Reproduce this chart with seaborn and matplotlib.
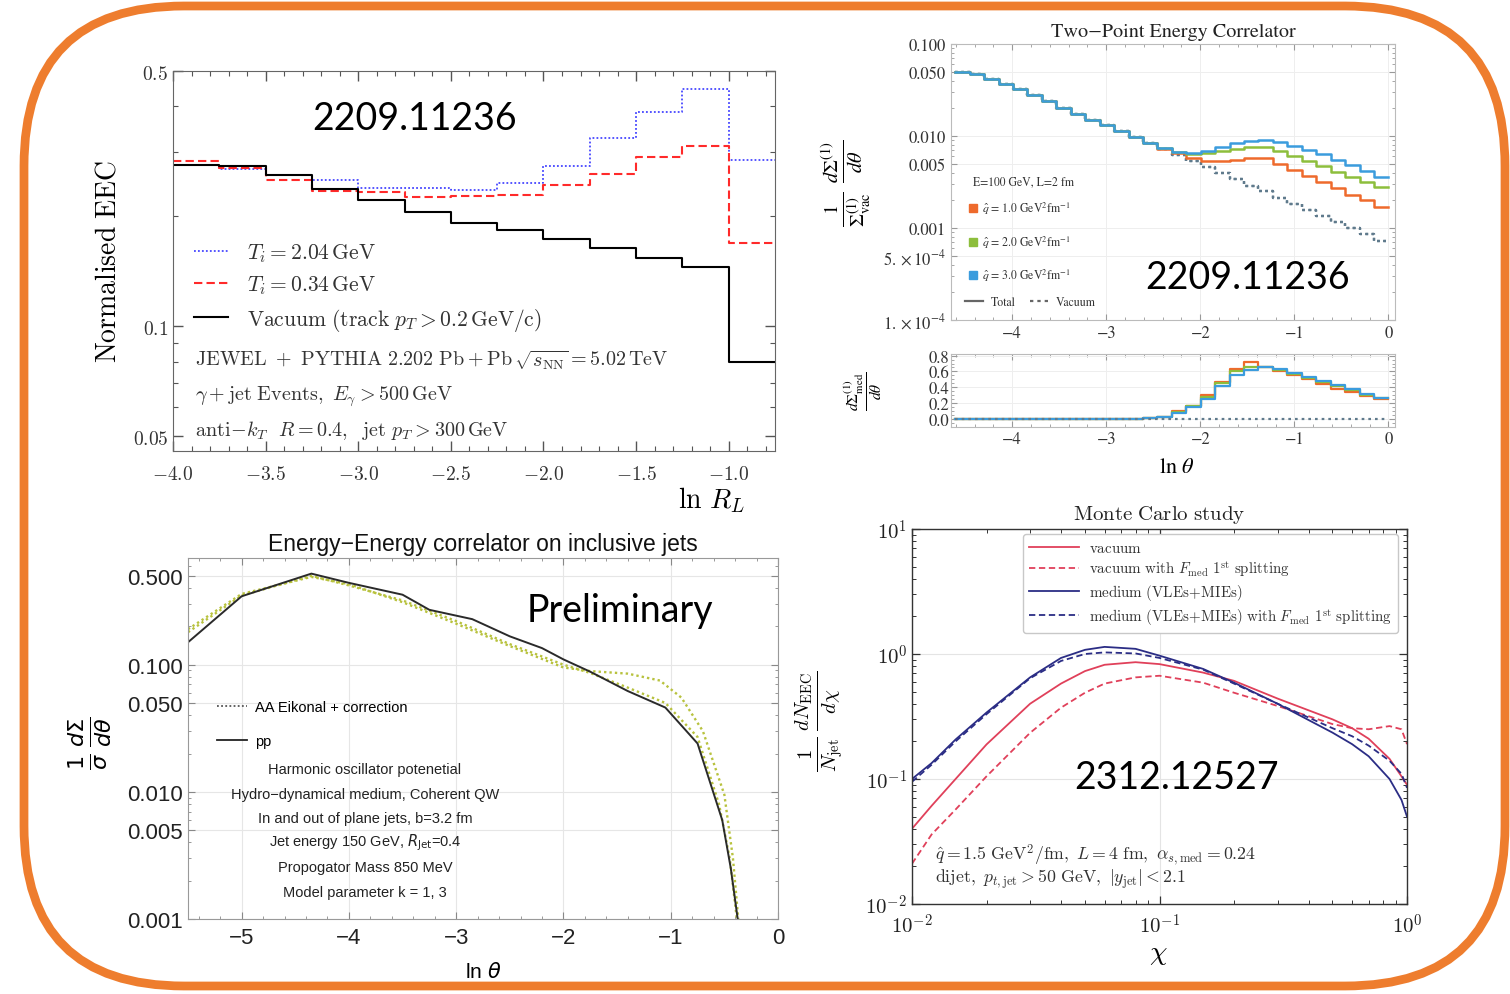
import numpy as np
import pandas as pd
import matplotlib
matplotlib.use("Agg")
import matplotlib.pyplot as plt
import seaborn as sns
from matplotlib.patches import FancyBboxPatch
from matplotlib.lines import Line2D
from matplotlib.ticker import MultipleLocator, FixedLocator, NullFormatter

# ---------------- data: panel 1 (2209.11236, JEWEL) ----------------
RL_edges = [-4.0, -3.75, -3.5, -3.25, -3.0, -2.75, -2.5, -2.25, -2.0, -1.75, -1.5, -1.25, -1.0, -0.75]
eec_Ti204 = [0.277, 0.270, 0.260, 0.251, 0.239, 0.239, 0.236, 0.247, 0.275, 0.328, 0.386, 0.446, 0.286]
eec_Ti034 = [0.284, 0.272, 0.252, 0.235, 0.233, 0.226, 0.227, 0.228, 0.243, 0.261, 0.290, 0.311, 0.169]
eec_vacuum = [0.277, 0.275, 0.259, 0.238, 0.221, 0.205, 0.192, 0.183, 0.173, 0.164, 0.154, 0.145, 0.080]
RL_ticks = [-4.0, -3.5, -3.0, -2.5, -2.0, -1.5, -1.0]
RL_yticks = [0.05, 0.1, 0.5]

# ---------------- data: panel 2 (2209.11236, two-point correlator) ----------------
theta_edges = [-4.605, -4.452, -4.298, -4.145, -3.991, -3.838, -3.684, -3.531, -3.377, -3.224,
               -3.070, -2.917, -2.763, -2.610, -2.456, -2.303, -2.149, -1.996, -1.842, -1.689,
               -1.535, -1.382, -1.228, -1.075, -0.921, -0.768, -0.614, -0.461, -0.307, -0.154, 0.0]
eec_vac2 = [0.0501, 0.0468, 0.0417, 0.0372, 0.0324, 0.0282, 0.0240, 0.0204, 0.0174, 0.0151,
            0.0132, 0.0112, 0.00977, 0.00832, 0.00724, 0.00617, 0.00537, 0.00457, 0.00398, 0.00339,
            0.00288, 0.00251, 0.00214, 0.00182, 0.00158, 0.00135, 0.00117, 0.00100, 0.00085, 0.00072]
eec_q1 = [0.0501, 0.0468, 0.0417, 0.0372, 0.0324, 0.0282, 0.0240, 0.0204, 0.0174, 0.0151,
          0.0132, 0.0112, 0.00977, 0.00832, 0.0073, 0.0066, 0.0058, 0.0054, 0.0054, 0.0055,
          0.0057, 0.0058, 0.0050, 0.0043, 0.0037, 0.0032, 0.0027, 0.0023, 0.0020, 0.0017]
eec_q2 = [0.0501, 0.0468, 0.0417, 0.0372, 0.0324, 0.0282, 0.0240, 0.0204, 0.0174, 0.0151,
          0.0132, 0.0112, 0.00977, 0.00832, 0.0074, 0.0067, 0.0064, 0.0065, 0.0069, 0.0073,
          0.0076, 0.0076, 0.0069, 0.0061, 0.0054, 0.0047, 0.0041, 0.0036, 0.0032, 0.0028]
eec_q3 = [0.0501, 0.0468, 0.0417, 0.0372, 0.0324, 0.0282, 0.0240, 0.0204, 0.0174, 0.0151,
          0.0132, 0.0112, 0.00977, 0.00832, 0.0074, 0.0067, 0.0065, 0.0068, 0.0076, 0.0083,
          0.0088, 0.0090, 0.0087, 0.0078, 0.0070, 0.0063, 0.0055, 0.0048, 0.0042, 0.0036]
med_q1 = [0, 0, 0, 0, 0, 0, 0, 0, 0, 0, 0, 0, 0, 0.01, 0.03, 0.10, 0.17, 0.30, 0.47, 0.63,
          0.72, 0.66, 0.60, 0.56, 0.50, 0.44, 0.38, 0.34, 0.29, 0.25]
med_q2 = [0, 0, 0, 0, 0, 0, 0, 0, 0, 0, 0, 0, 0, 0.01, 0.03, 0.09, 0.16, 0.28, 0.45, 0.60,
          0.66, 0.66, 0.62, 0.57, 0.52, 0.47, 0.42, 0.37, 0.30, 0.26]
med_q3 = [0, 0, 0, 0, 0, 0, 0, 0, 0, 0, 0, 0, 0, 0.01, 0.02, 0.08, 0.15, 0.25, 0.42, 0.56,
          0.62, 0.66, 0.63, 0.58, 0.53, 0.48, 0.43, 0.38, 0.31, 0.26]
med_vac = [0] * 30
theta_ticks = [-4, -3, -2, -1, 0]
corr_yticks = [1e-4, 5e-4, 1e-3, 5e-3, 1e-2, 5e-2, 1e-1]
corr_ylabels = [r'$1.\times10^{-4}$', r'$5.\times10^{-4}$', '0.001', '0.005', '0.010', '0.050', '0.100']
ratio_yticks = [0.0, 0.2, 0.4, 0.6, 0.8]

# ---------------- data: panel 3 (Preliminary, inclusive jets) ----------------
pp_x = [-5.5, -5.0, -4.35, -4.0, -3.5, -3.25, -2.85, -2.5, -2.2, -2.0, -1.75, -1.4, -1.05, -0.75, -0.52, -0.44, -0.36]
pp_y = [0.150, 0.345, 0.520, 0.44, 0.355, 0.27, 0.228, 0.167, 0.135, 0.110, 0.088, 0.062, 0.046, 0.024, 0.0060, 0.0025, 0.0008]
aa1_x = [-5.5, -5.0, -4.35, -4.0, -3.5, -3.0, -2.5, -2.0, -1.75, -1.4, -1.1, -0.9, -0.7, -0.5, -0.42, -0.36]
aa1_y = [0.190, 0.36, 0.49, 0.43, 0.31, 0.21, 0.14, 0.095, 0.089, 0.085, 0.075, 0.055, 0.030, 0.0095, 0.003, 0.0008]
aa2_x = [-5.5, -5.0, -4.35, -4.0, -3.5, -3.0, -2.5, -2.0, -1.75, -1.4, -1.05, -0.75, -0.55, -0.45, -0.37]
aa2_y = [0.180, 0.35, 0.50, 0.42, 0.32, 0.22, 0.145, 0.10, 0.086, 0.066, 0.050, 0.027, 0.008, 0.003, 0.0008]
incl_xticks = [-5, -4, -3, -2, -1, 0]
incl_yticks = [0.001, 0.005, 0.010, 0.050, 0.100, 0.500]
incl_notes = ["Harmonic oscillator potenetial",
              "Hydro\u2212dynamical medium, Coherent QW",
              "In and out of plane jets, b=3.2 fm",
              r"Jet energy 150 GeV, $R_{\rm Jet}$=0.4",
              "Propogator Mass 850 MeV",
              "Model parameter k = 1, 3"]

# ---------------- data: panel 4 (2312.12527, Monte Carlo) ----------------
chi = [0.010, 0.012, 0.015, 0.020, 0.030, 0.040, 0.050, 0.060, 0.080, 0.10, 0.15, 0.20, 0.30, 0.50, 0.60, 0.70, 0.85, 0.95, 1.00]
mc_vac = [0.040, 0.061, 0.100, 0.189, 0.40, 0.58, 0.73, 0.82, 0.86, 0.83, 0.71, 0.61, 0.44, 0.30, 0.255, 0.21, 0.145, 0.105, 0.090]
mc_vac_F = [0.021, 0.036, 0.057, 0.105, 0.234, 0.372, 0.49, 0.58, 0.65, 0.67, 0.59, 0.49, 0.384, 0.275, 0.255, 0.25, 0.265, 0.25, 0.19]
mc_med = [0.100, 0.134, 0.207, 0.34, 0.65, 0.93, 1.08, 1.14, 1.10, 0.97, 0.76, 0.59, 0.40, 0.235, 0.19, 0.152, 0.10, 0.068, 0.050]
mc_med_F = [0.095, 0.13, 0.20, 0.33, 0.64, 0.88, 1.00, 1.03, 1.01, 0.93, 0.75, 0.58, 0.40, 0.255, 0.22, 0.185, 0.14, 0.11, 0.085]
mc_labels = [r'$\mathrm{vacuum}$',
             r'$\mathrm{vacuum\ with}\ F_{\mathrm{med}}\ 1^{\mathrm{st}}\ \mathrm{splitting}$',
             r'$\mathrm{medium\ (VLEs\!+\!MIEs)}$',
             r'$\mathrm{medium\ (VLEs\!+\!MIEs)\ with}\ F_{\mathrm{med}}\ 1^{\mathrm{st}}\ \mathrm{splitting}$']

# ---------------- styling ----------------
plt.rcParams['mathtext.fontset'] = 'cm'
W, H = 1510, 995
fig = plt.figure(figsize=(W / 100, H / 100), dpi=100)
fig.patch.set_facecolor('white')


def box(left, top, right, bottom):
    return [left / W, 1 - bottom / H, (right - left) / W, (bottom - top) / H]


def step_line(ax, edges, values, **kw):
    xs = list(edges)
    ys = list(values) + [values[-1]]
    sns.lineplot(x=xs, y=ys, ax=ax, drawstyle='steps-post', sort=False, estimator=None, **kw)
    return ax.lines[-1]


def curve(ax, xs, ys, **kw):
    sns.lineplot(x=list(xs), y=list(ys), ax=ax, sort=False, estimator=None, **kw)
    return ax.lines[-1]


# orange rounded border
bg = fig.add_axes([0, 0, 1, 1], zorder=-5)
bg.set_xlim(0, W)
bg.set_ylim(H, 0)
bg.axis('off')
bg.add_patch(FancyBboxPatch((24, 7), 1481, 980, boxstyle='round,pad=0,rounding_size=160',
                            fill=False, ec='#EE7D2E', lw=6.3))

BIG = dict(family='Lato', fontsize=27, color='black')

# =============== panel 1 =================
ax1 = fig.add_axes(box(173, 72, 775, 452))
ax1.set_yscale('log')
l_b = step_line(ax1, RL_edges, eec_Ti204, color='#4646ff', lw=1.3, linestyle=(0, (1, 1.2)))
l_r = step_line(ax1, RL_edges, eec_Ti034, color='#ff2a2a', lw=1.5, linestyle=(0, (4, 2)))
l_k = step_line(ax1, RL_edges, eec_vacuum, color='black', lw=1.5)
ax1.set_xlim(-4.0, -0.75)
ax1.set_ylim(0.0455, 0.5)
ax1.set_xticks(RL_ticks)
ax1.set_xticklabels([r'$%.1f$' % t for t in RL_ticks], fontsize=14, color='#333')
ax1.xaxis.set_minor_locator(MultipleLocator(0.1))
ax1.yaxis.set_major_locator(FixedLocator(RL_yticks))
ax1.set_yticklabels([r'$0.05$', r'$0.1$', r'$0.5$'], fontsize=14, color='#333')
ax1.yaxis.set_minor_locator(FixedLocator([0.06, 0.07, 0.08, 0.09, 0.2, 0.3, 0.4]))
ax1.yaxis.set_minor_formatter(NullFormatter())
ax1.tick_params(which='both', direction='in', top=True, right=True, color='#555')
ax1.tick_params(which='major', length=7, width=1)
ax1.tick_params(which='minor', length=3.5, width=0.8)
ax1.tick_params(axis='x', which='major', pad=9)
for s in ax1.spines.values():
    s.set_color('#666')
ax1.set_xlabel(r'$\ln\, R_L$', fontsize=20)
ax1.xaxis.set_label_coords(0.95, -0.088)
ax1.xaxis.label.set_ha('right')
ax1.set_ylabel(r'$\mathrm{Normalised\ EEC}$', fontsize=20)
ax1.yaxis.set_label_coords(-0.085, 0.5)
leg1 = ax1.legend([l_b, l_r, l_k],
                  [r'$T_i = 2.04\,\mathrm{GeV}$', r'$T_i = 0.34\,\mathrm{GeV}$',
                   r'$\mathrm{Vacuum\ (track}\ p_T > 0.2\,\mathrm{GeV/c)}$'],
                  loc='upper left', bbox_to_anchor=(0.02, 0.575), frameon=False, fontsize=15.5,
                  handlelength=1.6, handletextpad=0.9, labelspacing=0.45, borderaxespad=0)
for i, t in enumerate(leg1.get_texts()):
    t.set_color('#333')
notes1 = [r'$\mathrm{JEWEL\ +\ PYTHIA\ 2.202\ Pb+Pb}\,\sqrt{s_{\mathrm{NN}}} = 5.02\,\mathrm{TeV}$',
          r'$\gamma + \mathrm{jet\ Events,}\ E_{\gamma} > 500\,\mathrm{GeV}$',
          r'$\mathrm{anti}\!-\!k_T\ \ R=0.4,\ \ \mathrm{jet}\ p_T>300\,\mathrm{GeV}$']
for t, yy in zip(notes1, [0.2395, 0.1447, 0.0553]):
    ax1.text(0.0365, yy, t, transform=ax1.transAxes, fontsize=14.5, va='center', ha='left', color='#333')
ax1.text(0.402, 0.875, '2209.11236', transform=ax1.transAxes, ha='center', va='center', **BIG)

# =============== panel 2 main =================
MC = '#999999'
ax2 = fig.add_axes(box(951, 45, 1395, 321))
ax2.set_yscale('log')
colors2 = ['#EE6A2C', '#8DBE3C', '#3B9CDD']
for vals, c in zip([eec_q1, eec_q2, eec_q3], colors2):
    step_line(ax2, theta_edges, eec_vac2, color='#5f7a8c', lw=1.6, linestyle=(0, (1.2, 1.6)))
for vals, c in zip([eec_q1, eec_q2, eec_q3], colors2):
    step_line(ax2, theta_edges, vals, color=c, lw=1.8)
ax2.set_xlim(-4.65, 0.07)
ax2.set_ylim(1e-4, 0.1)
ax2.set_xticks(theta_ticks)
ax2.set_xticklabels(['\u22124', '\u22123', '\u22122', '\u22121', '0'], family='STIXGeneral', fontsize=12, color='#333')
ax2.xaxis.set_minor_locator(MultipleLocator(0.2))
ax2.yaxis.set_major_locator(FixedLocator(corr_yticks))
ax2.set_yticklabels(corr_ylabels, family='STIXGeneral', fontsize=12, color='#333', math_fontfamily='stix')
ax2.yaxis.set_minor_locator(FixedLocator([2e-4, 3e-4, 4e-4, 6e-4, 7e-4, 8e-4, 9e-4, 2e-3, 3e-3, 4e-3,
                                          6e-3, 7e-3, 8e-3, 9e-3, 2e-2, 3e-2, 4e-2, 6e-2, 7e-2, 8e-2, 9e-2]))
ax2.yaxis.set_minor_formatter(NullFormatter())
ax2.tick_params(which='both', direction='in', top=True, right=True, color=MC)
ax2.tick_params(which='major', length=4, width=0.8)
ax2.tick_params(which='minor', length=2, width=0.6)
ax2.grid(True, which='major', color='#eeeeee', lw=0.7)
for s in ax2.spines.values():
    s.set_color('#bbbbbb')
ax2.set_ylabel(r'$\frac{1}{\Sigma^{(1)}_{\mathrm{vac}}}\ \frac{d\Sigma^{(1)}}{d\theta}$', fontsize=21, math_fontfamily='stix')
ax2.yaxis.set_label_coords(-0.175, 0.5)
ax2.text(0.5, 1.045, 'Two\u2212Point Energy Correlator', transform=ax2.transAxes, ha='center', va='center',
         family='STIXGeneral', fontsize=14.5, color='#222')
ax2.text(0.05, 0.504, 'E=100 GeV, L=2 fm', transform=ax2.transAxes, ha='left', va='center',
         family='STIXGeneral', fontsize=8.5, color='#333')
sq = [Line2D([], [], marker='s', ls='none', color=c, markersize=5.5) for c in colors2]
lg_a = ax2.legend(sq, [r'$\hat{q}$ = %s GeV$^2$fm$^{-1}$' % v for v in ['1.0', '2.0', '3.0']],
                  loc='upper left', bbox_to_anchor=(0.03, 0.452),
                  frameon=False, prop={'family': 'STIXGeneral', 'size': 8.5},
                  handlelength=0.6, handletextpad=0.5, labelspacing=1.45, borderaxespad=0)
for t in lg_a.get_texts():
    t.set_math_fontfamily('stix')
    t.set_color('#333')
ax2.add_artist(lg_a)
lg_b = ax2.legend([Line2D([], [], color='#666', lw=1.6), Line2D([], [], color='#666', lw=1.6, ls=(0, (1.5, 1.8)))],
                  ['Total', 'Vacuum'], ncol=2, loc='center left', bbox_to_anchor=(0.02, 0.065), frameon=False,
                  prop={'family': 'STIXGeneral', 'size': 8.5}, handlelength=1.6, handletextpad=0.6,
                  columnspacing=1.2, borderaxespad=0)
for t in lg_b.get_texts():
    t.set_color('#333')
ax2.text(0.667, 0.156, '2209.11236', transform=ax2.transAxes, ha='center', va='center', **BIG)

# =============== panel 2 ratio =================
ax2b = fig.add_axes(box(951, 355, 1395, 428))
for vals, c in zip([med_q1, med_q2, med_q3], colors2):
    step_line(ax2b, theta_edges, vals, color=c, lw=1.6)
step_line(ax2b, theta_edges, med_vac, color='#5f7a8c', lw=1.6, linestyle=(0, (1.2, 1.8)))
ax2b.set_xlim(-4.65, 0.07)
ax2b.set_ylim(-0.1, 0.82)
ax2b.set_xticks(theta_ticks)
ax2b.set_xticklabels(['\u22124', '\u22123', '\u22122', '\u22121', '0'], family='STIXGeneral', fontsize=12, color='#333')
ax2b.xaxis.set_minor_locator(MultipleLocator(0.2))
ax2b.set_yticks(ratio_yticks)
ax2b.set_yticklabels(['%.1f' % v for v in ratio_yticks], family='STIXGeneral', fontsize=12, color='#333')
ax2b.yaxis.set_minor_locator(MultipleLocator(0.05))
ax2b.tick_params(which='both', direction='in', top=True, right=True, color=MC)
ax2b.tick_params(which='major', length=4, width=0.8, pad=3)
ax2b.tick_params(which='minor', length=2, width=0.6)
ax2b.tick_params(axis='y', pad=1)
ax2b.grid(True, which='major', color='#eeeeee', lw=0.7)
for s in ax2b.spines.values():
    s.set_color('#bbbbbb')
ax2b.set_ylabel(r'$\frac{d\Sigma^{(1)}_{\mathrm{med}}}{d\theta}$', fontsize=16, math_fontfamily='stix')
ax2b.yaxis.set_label_coords(-0.15, 0.5)
ax2b.set_xlabel(r'$\ln\,\theta$', fontsize=16, math_fontfamily='stix')
ax2b.xaxis.set_label_coords(0.509, -0.4)

# =============== panel 3 =================
ax3 = fig.add_axes(box(188, 559, 778, 920))
ax3.set_yscale('log')
c_aa = '#b8c23e'
curve(ax3, aa1_x, aa1_y, color=c_aa, lw=1.7, linestyle=(0, (1, 1.3)))
curve(ax3, aa2_x, aa2_y, color=c_aa, lw=1.7, linestyle=(0, (1, 1.3)))
curve(ax3, pp_x, pp_y, color='#2a2a2a', lw=1.4)
ax3.set_xlim(-5.5, 0)
ax3.set_ylim(0.001, 0.69)
ax3.set_xticks(incl_xticks)
ax3.set_xticklabels(['\u22125', '\u22124', '\u22123', '\u22122', '\u22121', '0'], family='Liberation Sans', fontsize=16, color='#222')
ax3.xaxis.set_minor_locator(MultipleLocator(0.2))
ax3.yaxis.set_major_locator(FixedLocator(incl_yticks))
ax3.set_yticklabels(['0.001', '0.005', '0.010', '0.050', '0.100', '0.500'], family='Liberation Sans', fontsize=16, color='#222')
ax3.yaxis.set_minor_locator(FixedLocator([0.002, 0.003, 0.004, 0.006, 0.007, 0.008, 0.009, 0.02, 0.03, 0.04,
                                          0.06, 0.07, 0.08, 0.09, 0.2, 0.3, 0.4, 0.6]))
ax3.yaxis.set_minor_formatter(NullFormatter())
ax3.tick_params(which='both', direction='in', top=True, right=True, color='#888')
ax3.tick_params(which='major', length=5, width=0.8)
ax3.tick_params(which='minor', length=2.5, width=0.6)
ax3.tick_params(axis='x', which='major', pad=6)
ax3.grid(True, which='major', color='#e6e6e6', lw=0.8)
for s in ax3.spines.values():
    s.set_color('#999999')
ax3.set_title('Energy\u2212Energy correlator on inclusive jets', family='Liberation Sans', fontsize=16.5, pad=6, color='#111')
ax3.set_xlabel(r'ln $\theta$', family='Liberation Sans', fontsize=15, math_fontfamily='dejavusans')
ax3.xaxis.set_label_coords(0.5, -0.116)
ax3.set_ylabel(r'$\frac{1}{\sigma}\,\frac{d\Sigma}{d\theta}$', fontsize=23, math_fontfamily='dejavusans')
ax3.yaxis.set_label_coords(-0.125, 0.49)
lg3 = ax3.legend([Line2D([], [], color='#555', lw=1.3, ls=(0, (1, 1.3))), Line2D([], [], color='#222', lw=1.3)],
                 ['AA Eikonal + correction', 'pp'], loc='upper left', bbox_to_anchor=(0.04, 0.623),
                 frameon=False, prop={'family': 'Liberation Sans', 'size': 10.5},
                 handlelength=2.0, handletextpad=0.6, labelspacing=1.4, borderaxespad=0)
for t, yy in zip(incl_notes, [0.4155, 0.346, 0.280, 0.2133, 0.144, 0.0748]):
    ax3.text(0.30, yy, t, transform=ax3.transAxes, ha='center', va='center', family='Liberation Sans',
             fontsize=10.5, color='#222', math_fontfamily='dejavusans')
ax3.text(0.732, 0.856, 'Preliminary', transform=ax3.transAxes, ha='center', va='center', **BIG)

# =============== panel 4 =================
ax4 = fig.add_axes(box(912, 530, 1407, 905))
ax4.set_xscale('log')
ax4.set_yscale('log')
c_red = '#e0405a'
c_blue = '#2b2d85'
h1 = curve(ax4, chi, mc_vac, color=c_red, lw=1.3)
h2 = curve(ax4, chi, mc_vac_F, color=c_red, lw=1.3, linestyle=(0, (3.5, 2)))
h3 = curve(ax4, chi, mc_med, color=c_blue, lw=1.3)
h4 = curve(ax4, chi, mc_med_F, color=c_blue, lw=1.3, linestyle=(0, (3.5, 2)))
ax4.set_xlim(1e-2, 1)
ax4.set_ylim(1e-2, 10)
ax4.xaxis.set_major_locator(FixedLocator([1e-2, 1e-1, 1]))
ax4.set_xticklabels([r'$10^{-2}$', r'$10^{-1}$', r'$10^{0}$'], fontsize=15, color='#222')
ax4.yaxis.set_major_locator(FixedLocator([1e-2, 1e-1, 1, 10]))
ax4.set_yticklabels([r'$10^{-2}$', r'$10^{-1}$', r'$10^{0}$', r'$10^{1}$'], fontsize=15, color='#222')
mn = [m * 10.0 ** e for e in (-2, -1, 0) for m in range(2, 10)]
ax4.xaxis.set_minor_locator(FixedLocator([v for v in mn if v < 1]))
ax4.yaxis.set_minor_locator(FixedLocator(mn))
ax4.xaxis.set_minor_formatter(NullFormatter())
ax4.yaxis.set_minor_formatter(NullFormatter())
ax4.tick_params(which='both', direction='in', top=True, right=True, color='#333')
ax4.tick_params(which='major', length=6, width=0.9)
ax4.tick_params(which='minor', length=3, width=0.7)
ax4.tick_params(axis='x', which='major', pad=6)
ax4.grid(True, which='major', color='#e4e4e4', lw=0.8)
for s in ax4.spines.values():
    s.set_color('#333')
    s.set_linewidth(1.0)
ax4.set_title(r'$\mathrm{Monte\ Carlo\ study}$', fontsize=15, pad=7, color='#222')
ax4.set_xlabel(r'$\chi$', fontsize=20)
ax4.xaxis.set_label_coords(0.497, -0.09)
ax4.set_ylabel(r'$\frac{1}{N_{\mathrm{jet}}}\,\frac{dN_{\mathrm{EEC}}}{d\chi}$', fontsize=21)
ax4.yaxis.set_label_coords(-0.135, 0.49)
lg4 = ax4.legend([h1, h2, h3, h4], mc_labels, loc='upper right', bbox_to_anchor=(0.982, 0.987),
                 fontsize=10.8, handlelength=3.3, handletextpad=0.7, labelspacing=0.25, borderaxespad=0,
                 frameon=True, fancybox=True, edgecolor='#c8c8c8', framealpha=1)
for t in lg4.get_texts():
    t.set_color('#333')
notes4 = [r'$\hat{q} = 1.5\ \mathrm{GeV}^2/\mathrm{fm},\ L = 4\ \mathrm{fm},\ \alpha_{s,\mathrm{med}} = 0.24$',
          r'$\mathrm{dijet,}\ p_{t,\mathrm{jet}} > 50\ \mathrm{GeV},\ |y_{\mathrm{jet}}| < 2.1$']
for t, yy in zip(notes4, [0.133, 0.067]):
    ax4.text(0.046, yy, t, transform=ax4.transAxes, ha='left', va='center', fontsize=12.8, color='#333')
ax4.text(0.535, 0.339, '2312.12527', transform=ax4.transAxes, ha='center', va='center', **BIG)

fig.savefig('out.png', dpi=100, facecolor='white')
